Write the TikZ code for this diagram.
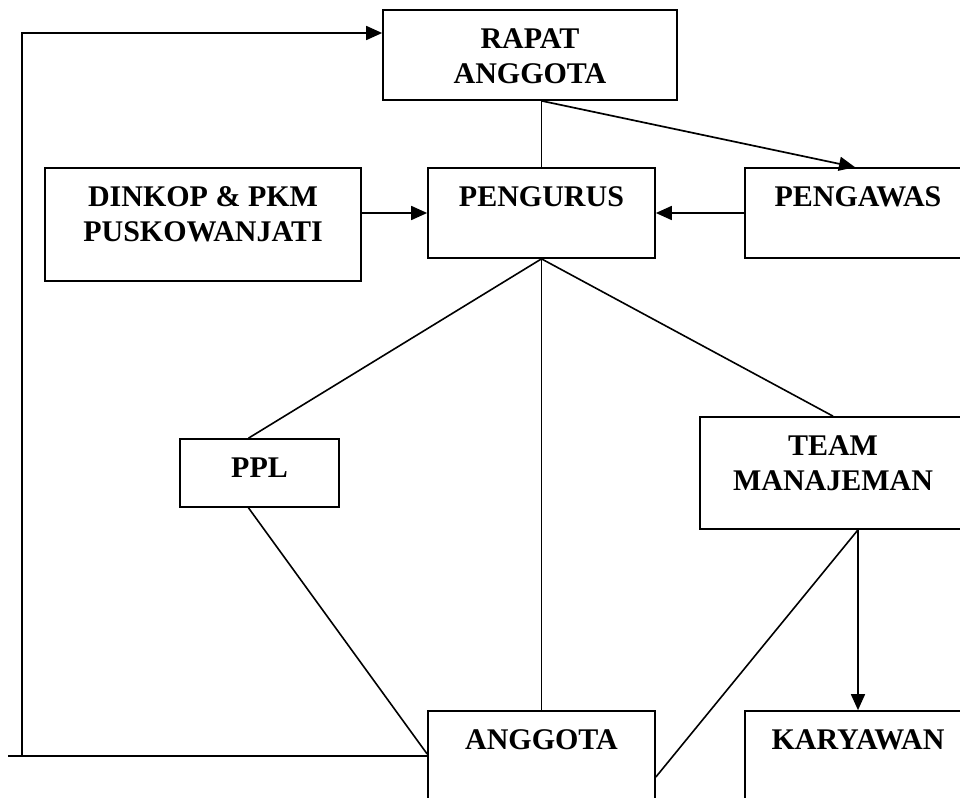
\documentclass[tikz,border=0pt]{standalone}
\usepackage{fontspec}
\setmainfont{Liberation Serif}
\usetikzlibrary{arrows.meta,calc}
\begin{document}
\begin{tikzpicture}[x=0.5pt,y=-0.5pt,
  box/.style={draw,line width=0.85pt,inner sep=0pt,rectangle},
  lbl/.style={anchor=base,inner sep=0pt,font=\fontsize{15}{17.5}\selectfont\bfseries},
  conn/.style={line width=0.8pt},
  arr/.style={line width=0.85pt,-{Triangle[length=8pt,width=7pt]}}]
\useasboundingbox (0,0) rectangle (960,798);
\clip (0,0) rectangle (960,798);
% boxes
\node[box,minimum width=147pt,minimum height=45pt] (rapat) at (530,55) {};
\node[box,minimum width=113.5pt,minimum height=45pt] (pengurus) at (541.5,213) {};
\node[box,minimum width=113pt,minimum height=45pt] (pengawas) at (858,213) {};
\node[box,minimum width=158pt,minimum height=56.5pt] (dinkop) at (203,224.5) {};
\node[box,minimum width=79.5pt,minimum height=34pt] (ppl) at (259.5,473) {};
\node[box,minimum width=133pt,minimum height=56pt] (team) at (833,473) {};
\node[box,minimum width=113.5pt,minimum height=60pt] (anggota) at (541.5,771) {};
\node[box,minimum width=113pt,minimum height=60pt] (karyawan) at (858,771) {};
% labels
\node[lbl] (rapat1) at (530,48.5) {RAPAT};
\node[lbl] (rapat2) at (530,83.5) {ANGGOTA};
\node[lbl] (pengurus1) at (541.5,206.5) {PENGURUS};
\node[lbl] (pengawas1) at (858,206.5) {PENGAWAS};
\node[lbl] (dinkop1) at (203,206.5) {DINKOP \& PKM};
\node[lbl] (dinkop2) at (203,241.5) {PUSKOWANJATI};
\node[lbl] (ppl1) at (259.5,477.5) {PPL};
\node[lbl] (team1) at (833,455) {TEAM};
\node[lbl] (team2) at (833,490) {MANAJEMAN};
\node[lbl] (anggota1) at (541.5,749.5) {ANGGOTA};
\node[lbl] (karyawan1) at (858,749.5) {KARYAWAN};
% helper coordinates
\coordinate (fbL) at (8,756);
\coordinate (fbC) at (22,756);
\coordinate (fbT) at (22,33);
\coordinate (pplTop) at ($(ppl.north)+(-11,0)$);
\coordinate (pplBot) at ($(ppl.south)+(-11,0)$);
\coordinate (angL) at (anggota.west |- 0,754);
\coordinate (angR) at (anggota.east |- 0,777);
% connectors
\draw[conn] (pengurus.north) -- (pengurus.north |- rapat.south);
\draw[arr] (pengurus.north |- rapat.south) -- ($(pengawas.north)+(-3,0)$);
\draw[arr] (dinkop.east |- pengurus.west) -- (pengurus.west);
\draw[arr] (pengawas.west) -- (pengurus.east);
\draw[conn] (pengurus.south) -- (pplTop);
\draw[conn] (pengurus.south) -- (anggota.north);
\draw[conn] (pengurus.south) -- (team.north);
\draw[conn] (pplBot) -- (angL);
\draw[arr] (karyawan.north |- team.south) -- (karyawan.north);
\draw[conn] (karyawan.north |- team.south) -- (angR);
\draw[conn] (fbL) -- (anggota.west |- fbL);
\draw[arr] (fbC) -- (fbT) -- (rapat.west |- fbT);
\end{tikzpicture}
\end{document}
